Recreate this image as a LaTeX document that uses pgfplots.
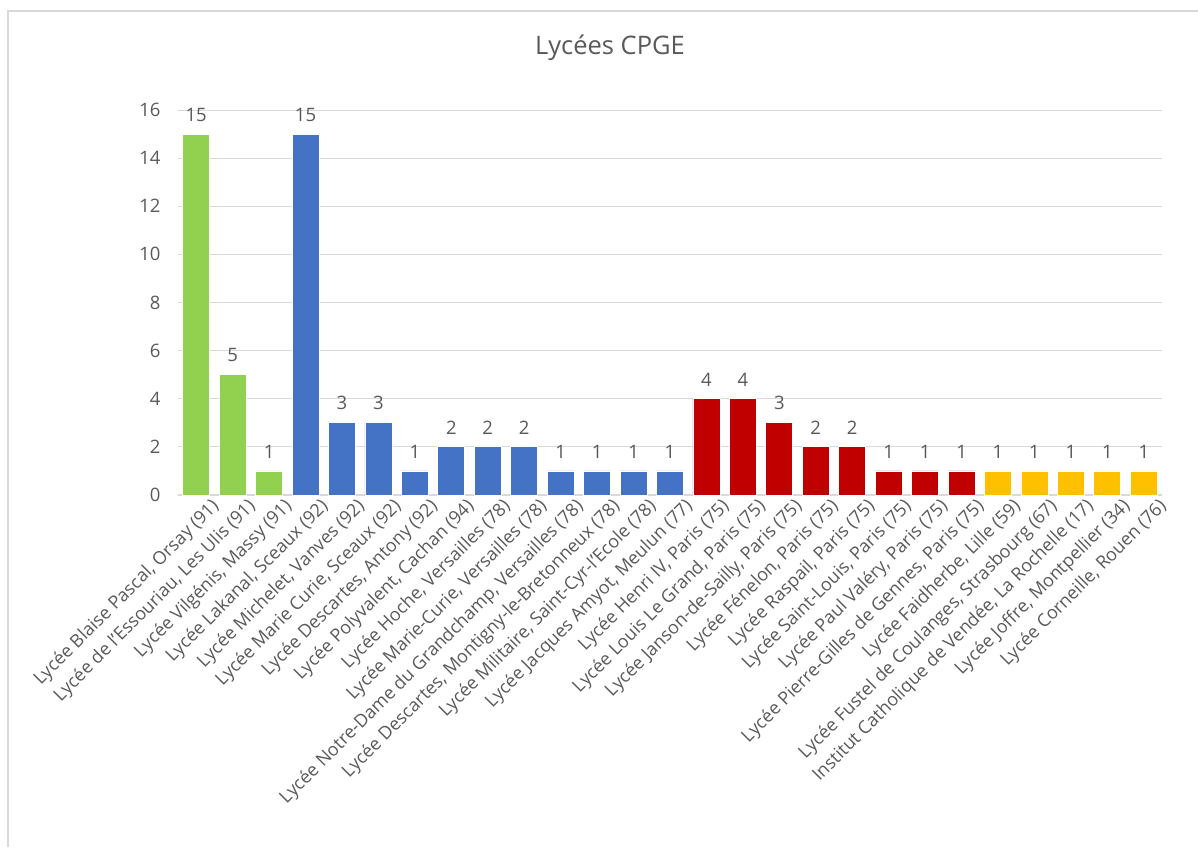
\documentclass[border=0pt]{standalone}
\usepackage{fontspec}
\setmainfont{Open Sans}
\usepackage{pgfplots}
\pgfplotsset{compat=1.18}
\definecolor{cgreen}{HTML}{92D050}
\definecolor{cblue}{HTML}{4472C4}
\definecolor{cred}{HTML}{C00000}
\definecolor{cyellow}{HTML}{FFC000}
\definecolor{txt}{HTML}{595959}
\definecolor{gridc}{HTML}{D9D9D9}
\begin{document}
\begin{tikzpicture}[x=1pt,y=1pt]
\useasboundingbox (-178,-352) rectangle (1020,495);
\draw[gridc, line width=1.5pt] (-170,-352) -- (-170,484) -- (1020,484);
\begin{axis}[
  at={(0,0)}, anchor=south west,
  scale only axis,
  width=984pt, height=385pt,
  ybar, bar width=27pt, bar shift=0pt,
  xmin=-0.5, xmax=26.5,
  ymin=0, ymax=16,
  ytick={0,2,...,16},
  xtick={0,...,26},
  xticklabels={
    {Lycée Blaise Pascal, Orsay (91)},
    {Lycée de l'Essouriau, Les Ulis (91)},
    {Lycée Vilgénis, Massy (91)},
    {Lycée Lakanal, Sceaux (92)},
    {Lycée Michelet, Vanves (92)},
    {Lycée Marie Curie, Sceaux (92)},
    {Lycée Descartes, Antony (92)},
    {Lycée Polyvalent, Cachan (94)},
    {Lycée Hoche, Versailles (78)},
    {Lycée Marie-Curie, Versailles (78)},
    {Lycée Notre-Dame du Grandchamp, Versailles (78)},
    {Lycée Descartes, Montigny-le-Bretonneux (78)},
    {Lycée Militaire, Saint-Cyr-l'Ecole (78)},
    {Lycée Jacques Amyot, Meulun (77)},
    {Lycée Henri IV, Paris (75)},
    {Lycée Louis Le Grand, Paris (75)},
    {Lycée Janson-de-Sailly, Paris (75)},
    {Lycée Fénelon, Paris (75)},
    {Lycée Raspail, Paris (75)},
    {Lycée Saint-Louis, Paris (75)},
    {Lycée Paul Valéry, Paris (75)},
    {Lycée Pierre-Gilles de Gennes, Paris (75)},
    {Lycée Faidherbe, Lille (59)},
    {Lycée Fustel de Coulanges, Strasbourg (67)},
    {Institut Catholique de Vendée, La Rochelle (17)},
    {Lycée Joffre, Montpellier (34)},
    {Lycée Corneille, Rouen (76)}},
  xticklabel style={rotate=45, anchor=north east, font=\fontsize{18}{21}\selectfont, text=txt, inner sep=0pt, xshift=8pt, yshift=-11pt},
  yticklabel style={font=\fontsize{18.5}{21}\selectfont, text=txt},
  /pgf/number format/assume math mode=true,
  ymajorgrids=true,
  grid style={gridc, line width=1pt},
  axis x line*=bottom, axis y line*=left,
  x axis line style={gridc, line width=1.2pt, -},
  y axis line style={draw=none},
  major tick length=0pt,
  yticklabel shift=14pt,
  nodes near coords,
  every node near coord/.append style={font=\fontsize{18.5}{21}\selectfont, text=txt, yshift=9pt},
  clip=false,
]
\addplot[fill=cgreen, draw=white, line width=0.8pt] coordinates {(0,15) (1,5) (2,1)};
\addplot[fill=cblue, draw=white, line width=0.8pt] coordinates {(3,15) (4,3) (5,3) (6,1) (7,2) (8,2) (9,2) (10,1) (11,1) (12,1) (13,1)};
\addplot[fill=cred, draw=white, line width=0.8pt] coordinates {(14,4) (15,4) (16,3) (17,2) (18,2) (19,1) (20,1) (21,1)};
\addplot[fill=cyellow, draw=white, line width=0.8pt] coordinates {(22,1) (23,1) (24,1) (25,1) (26,1)};
\end{axis}
\node[text=txt, font=\fontsize{25.5}{29}\selectfont] at (432,447) {Lycées CPGE};
\end{tikzpicture}
\end{document}
